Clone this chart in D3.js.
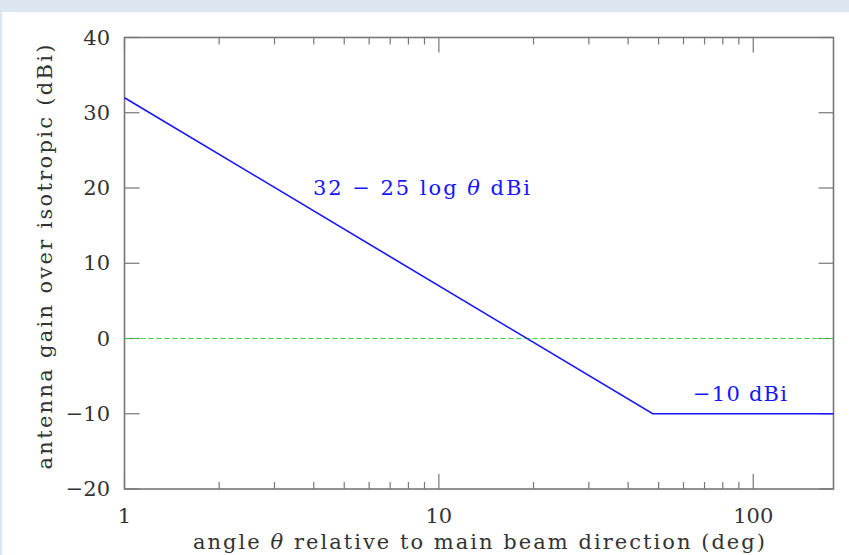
<!DOCTYPE html>
<html>
<head>
<meta charset="utf-8">
<script src="https://cdn.jsdelivr.net/npm/d3@7"></script>
<style>
  body { margin: 0; background: #dce6f1; }
  svg { display: block; }
  text { font-family: "DejaVu Serif", serif; }
</style>
</head>
<body>
<div id="chart"></div>
<script>
// gain curve: 32 - 25 log(theta), floored at -10 dBi
var theta = [1, 47.9, 180];
var gain = [32, -10, -10];
var xTicks = [1, 10, 100];
var yTicks = [-20, -10, 0, 10, 20, 30, 40];

var W = 849, H = 555;
var m = {left: 124.5, top: 37.5, right: 833.5, bottom: 489};

var svg = d3.select("#chart").append("svg")
    .attr("width", W).attr("height", H);

// page panel
svg.append("rect").attr("x", 0).attr("y", 0).attr("width", W).attr("height", H).attr("fill", "#dce6f1");
svg.append("rect").attr("x", 2).attr("y", 12).attr("width", W - 2).attr("height", H - 12).attr("fill", "#fff");

var x = d3.scaleLog().domain([1, 180]).range([m.left, m.right]);
var y = d3.scaleLinear().domain([-20, 40]).range([m.bottom, m.top]);

var axisCol = "#777";

// minor ticks on x
var minor = [];
[1, 10, 100].forEach(function(d) {
  for (var k = 2; k <= 9; k++) if (d * k < 180) minor.push(d * k);
});

var g = svg.append("g");

// x ticks bottom & top (inward)
function xTickLines(vals, len) {
  g.selectAll(null).data(vals).enter().append("line")
    .attr("x1", function(d) { return x(d); }).attr("x2", function(d) { return x(d); })
    .attr("y1", m.bottom).attr("y2", m.bottom - len)
    .attr("stroke", axisCol).attr("stroke-width", 1.2);
  g.selectAll(null).data(vals).enter().append("line")
    .attr("x1", function(d) { return x(d); }).attr("x2", function(d) { return x(d); })
    .attr("y1", m.top).attr("y2", m.top + len)
    .attr("stroke", axisCol).attr("stroke-width", 1.2);
}
xTickLines(minor, 7);
xTickLines(xTicks, 15);

// y ticks left & right
g.selectAll(null).data(yTicks).enter().append("line")
  .attr("x1", m.left).attr("x2", m.left + 15)
  .attr("y1", function(d) { return y(d); }).attr("y2", function(d) { return y(d); })
  .attr("stroke", axisCol).attr("stroke-width", 1.2);
g.selectAll(null).data(yTicks).enter().append("line")
  .attr("x1", m.right).attr("x2", m.right - 15)
  .attr("y1", function(d) { return y(d); }).attr("y2", function(d) { return y(d); })
  .attr("stroke", axisCol).attr("stroke-width", 1.2);

// zero reference line
svg.append("line")
  .attr("x1", m.left).attr("x2", m.right)
  .attr("y1", y(0)).attr("y2", y(0))
  .attr("stroke", "#33dd33").attr("stroke-width", 1)
  .attr("stroke-dasharray", "5,3");

// frame
svg.append("rect")
  .attr("x", m.left).attr("y", m.top)
  .attr("width", m.right - m.left).attr("height", m.bottom - m.top)
  .attr("fill", "none").attr("stroke", axisCol).attr("stroke-width", 1.6);

// gain line
var line = d3.line()
  .x(function(d, i) { return x(theta[i]); })
  .y(function(d, i) { return y(gain[i]); });
svg.append("path").datum(theta)
  .attr("d", line)
  .attr("fill", "none").attr("stroke", "#1515ff").attr("stroke-width", 1.6);

// tick labels
svg.selectAll(null).data(yTicks).enter().append("text")
  .attr("x", 110).attr("y", function(d) { return y(d) + 7; })
  .attr("text-anchor", "end").attr("font-size", 21).attr("fill", "#333")
  .text(function(d) { return d < 0 ? "\u2212" + Math.abs(d) : d; });

svg.selectAll(null).data(xTicks).enter().append("text")
  .attr("x", function(d) { return x(d); }).attr("y", 523)
  .attr("text-anchor", "middle").attr("font-size", 21).attr("fill", "#333")
  .text(function(d) { return d; });

// text with italic theta
function label(sel, parts) {
  parts.forEach(function(p) {
    var t = sel.append("tspan").text(p);
    if (p === "\u03b8") t.attr("font-style", "italic");
  });
  return sel;
}

// axis titles
label(svg.append("text")
  .attr("x", 479).attr("y", 549)
  .attr("text-anchor", "middle").attr("font-size", 21).attr("fill", "#333")
  .attr("textLength", 572).attr("lengthAdjust", "spacing"),
  ["angle ", "\u03b8", " relative to main beam direction (deg)"]);

svg.append("text")
  .attr("transform", "translate(52,257) rotate(-90)")
  .attr("text-anchor", "middle").attr("font-size", 21).attr("fill", "#333")
  .attr("textLength", 425).attr("lengthAdjust", "spacing")
  .text("antenna gain over isotropic (dBi)");

// annotations
label(svg.append("text")
  .attr("x", 313).attr("y", 195)
  .attr("font-size", 21).attr("fill", "#1515ff")
  .attr("textLength", 217).attr("lengthAdjust", "spacing"),
  ["32 \u2212 25 log ", "\u03b8", " dBi"]);

svg.append("text")
  .attr("x", 693).attr("y", 401)
  .attr("font-size", 21).attr("fill", "#1515ff")
  .attr("textLength", 94).attr("lengthAdjust", "spacing")
  .text("\u221210 dBi");
</script>
</body>
</html>
